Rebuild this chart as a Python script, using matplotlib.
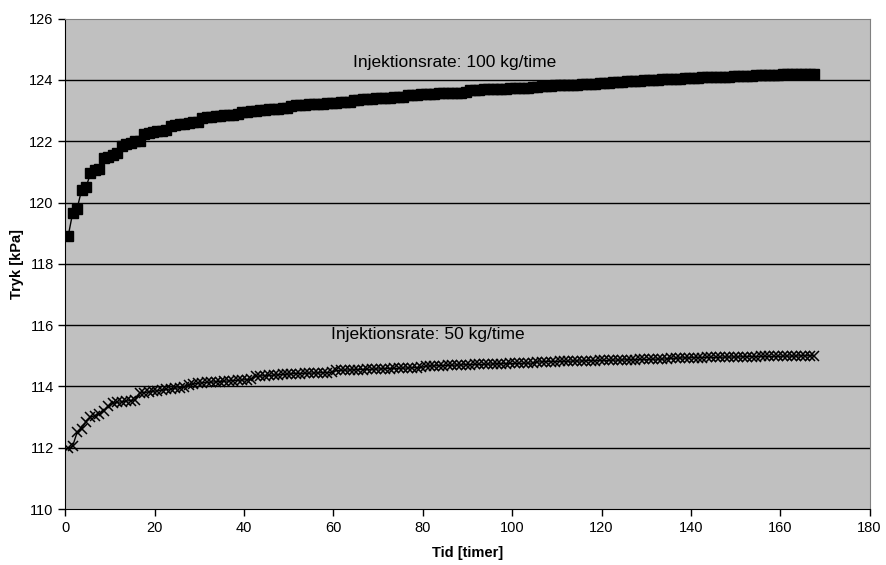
import numpy as np
import matplotlib
matplotlib.use("Agg")
import matplotlib.pyplot as plt

plt.rcParams['font.family'] = ['Liberation Sans', 'DejaVu Sans']

# Tidspunkter (timer) - en maaling pr. time
tid = np.arange(168) + 0.6

# Tryk ved injektionsrate 100 kg/time
tryk_100 = [
    118.90, 119.65, 119.80, 120.40, 120.50, 120.95, 121.05, 121.10, 121.45, 121.50,
    121.55, 121.60, 121.85, 121.90, 121.95, 122.00, 122.02, 122.25, 122.28, 122.30,
    122.32, 122.34, 122.36, 122.50, 122.52, 122.55, 122.57, 122.60, 122.62, 122.64,
    122.75, 122.78, 122.80, 122.82, 122.83, 122.85, 122.86, 122.87, 122.88, 122.95,
    122.97, 122.98, 123.00, 123.01, 123.03, 123.04, 123.05, 123.06, 123.07, 123.08,
    123.15, 123.17, 123.18, 123.19, 123.20, 123.21, 123.22, 123.23, 123.24, 123.25,
    123.26, 123.27, 123.28, 123.29, 123.35, 123.36, 123.37, 123.38, 123.39, 123.40,
    123.40, 123.41, 123.42, 123.43, 123.43, 123.44, 123.50, 123.51, 123.52, 123.53,
    123.53, 123.54, 123.55, 123.56, 123.56, 123.57, 123.58, 123.59, 123.59, 123.60,
    123.67, 123.68, 123.68, 123.69, 123.70, 123.70, 123.71, 123.72, 123.72, 123.73,
    123.73, 123.74, 123.75, 123.75, 123.76, 123.76, 123.80, 123.81, 123.81, 123.82,
    123.83, 123.83, 123.84, 123.85, 123.85, 123.86, 123.87, 123.87, 123.88, 123.89,
    123.90, 123.91, 123.92, 123.93, 123.94, 123.95, 123.96, 123.97, 123.98, 123.99,
    124.00, 124.01, 124.01, 124.02, 124.03, 124.03, 124.04, 124.04, 124.05, 124.06,
    124.06, 124.07, 124.08, 124.08, 124.09, 124.09, 124.10, 124.11, 124.11, 124.12,
    124.12, 124.13, 124.13, 124.14, 124.15, 124.15, 124.16, 124.16, 124.17, 124.17,
    124.18, 124.18, 124.18, 124.19, 124.19, 124.19, 124.20, 124.20,
]

# Tryk ved injektionsrate 50 kg/time
tryk_50 = [
    111.98, 112.05, 112.50, 112.62, 112.85, 113.00, 113.05, 113.10, 113.20, 113.35,
    113.45, 113.48, 113.50, 113.52, 113.54, 113.56, 113.78, 113.80, 113.82, 113.84,
    113.86, 113.88, 113.90, 113.92, 113.94, 113.96, 113.98, 114.06, 114.08, 114.10,
    114.12, 114.13, 114.14, 114.15, 114.16, 114.17, 114.18, 114.19, 114.20, 114.21,
    114.22, 114.23, 114.33, 114.34, 114.35, 114.36, 114.37, 114.38, 114.39, 114.40,
    114.41, 114.42, 114.42, 114.43, 114.43, 114.44, 114.44, 114.45, 114.45, 114.46,
    114.52, 114.53, 114.53, 114.54, 114.54, 114.55, 114.55, 114.56, 114.56, 114.57,
    114.57, 114.58, 114.58, 114.59, 114.59, 114.60, 114.60, 114.61, 114.61, 114.62,
    114.66, 114.67, 114.67, 114.68, 114.68, 114.69, 114.69, 114.70, 114.70, 114.71,
    114.71, 114.72, 114.72, 114.72, 114.73, 114.73, 114.74, 114.74, 114.74, 114.75,
    114.75, 114.75, 114.76, 114.76, 114.76, 114.80, 114.80, 114.81, 114.81, 114.81,
    114.82, 114.82, 114.82, 114.83, 114.83, 114.83, 114.84, 114.84, 114.84, 114.85,
    114.85, 114.85, 114.86, 114.86, 114.86, 114.87, 114.87, 114.87, 114.88, 114.88,
    114.88, 114.89, 114.89, 114.89, 114.90, 114.92, 114.92, 114.93, 114.93, 114.93,
    114.94, 114.94, 114.94, 114.95, 114.95, 114.95, 114.95, 114.96, 114.96, 114.96,
    114.96, 114.97, 114.97, 114.97, 114.97, 114.98, 114.98, 114.98, 114.98, 114.98,
    114.99, 114.99, 114.99, 114.99, 115.00, 115.00, 115.00, 115.00,
]

x_ticks = np.arange(0, 181, 20)
y_ticks = np.arange(110, 127, 2)

fig = plt.figure(figsize=(8.87, 5.65), dpi=100)
ax = fig.add_axes([0.0738, 0.0991, 0.9065, 0.8679])
ax.set_facecolor('#C0C0C0')

# Vandrette gitterlinjer
for y in y_ticks[1:-1]:
    ax.axhline(y, color='black', linewidth=1.0, zorder=1)

ax.plot(tid, tryk_100, color='black', linewidth=1.0, marker='s',
        markersize=7, markerfacecolor='black', markeredgecolor='black', zorder=3)
ax.plot(tid, tryk_50, color='black', linewidth=1.0, marker='x',
        markersize=7.5, markeredgewidth=1.1, zorder=3)

ax.text(64.4, 124.58, 'Injektionsrate: 100 kg/time', fontsize=12.5, va='center', ha='left')
ax.text(59.4, 115.68, 'Injektionsrate: 50 kg/time', fontsize=12.5, va='center', ha='left')

ax.set_xlim(0, 180)
ax.set_ylim(110, 126)
ax.set_xticks(x_ticks)
ax.set_yticks(y_ticks)
ax.tick_params(direction='out', length=5, width=1, labelsize=10.5, colors='black')

ax.spines['left'].set_color('black')
ax.spines['bottom'].set_color('black')
ax.spines['top'].set_color('#808080')
ax.spines['right'].set_color('#808080')

ax.set_xlabel('Tid [timer]', fontsize=10.5, fontweight='bold', labelpad=8)
ax.set_ylabel('Tryk [kPa]', fontsize=10.5, fontweight='bold', labelpad=4)

fig.savefig('out.png', dpi=100)
